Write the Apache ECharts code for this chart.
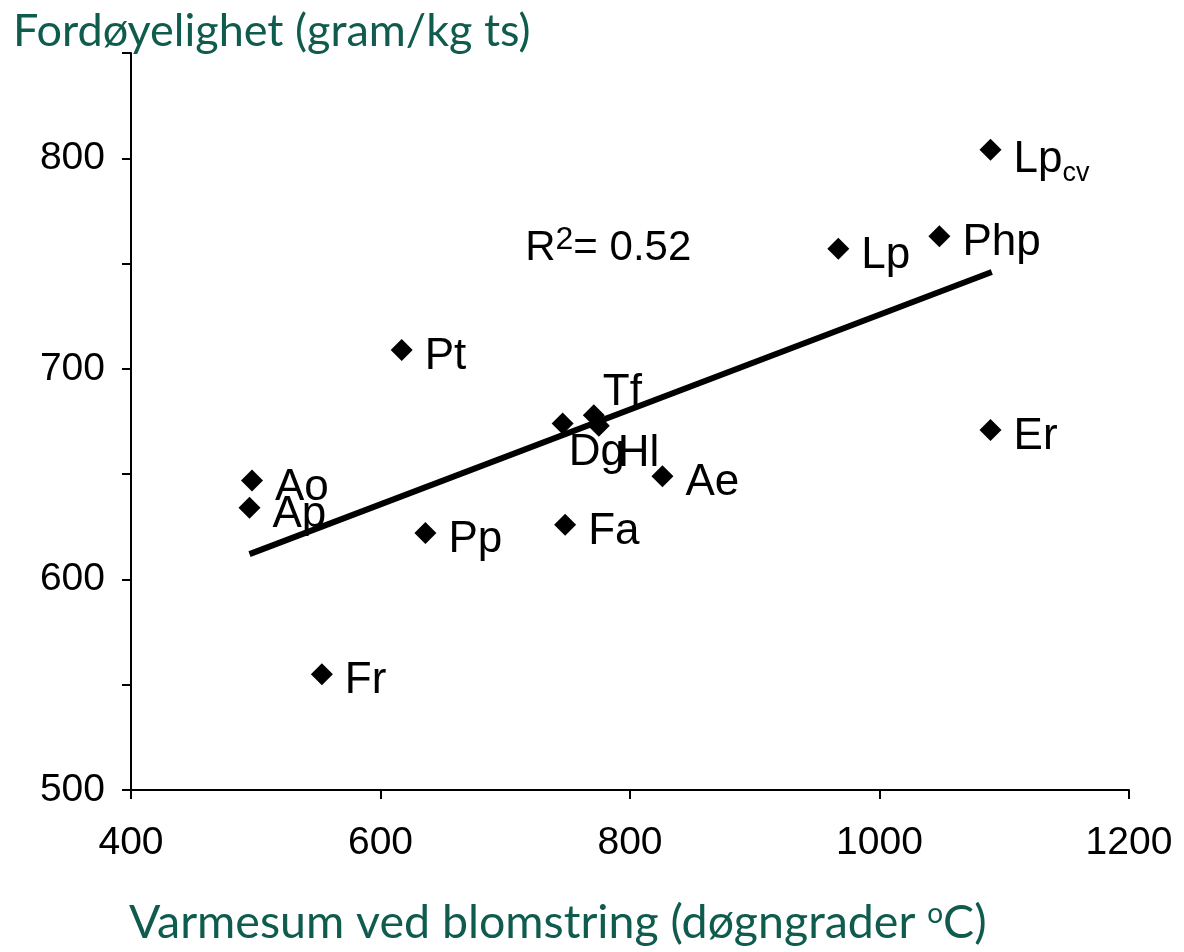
<!DOCTYPE html>
<html>
<head>
<meta charset="utf-8">
<script src="https://cdn.jsdelivr.net/npm/echarts@6/dist/echarts.min.js"></script>
<style>
html,body{margin:0;padding:0;background:#fff;}
#c{width:1184px;height:952px;}
</style>
</head>
<body>
<div id="c"></div>
<script>
// ---- data ----
const names = ['Lp_cv','Lp','Php','Pt','Tf','Dg','Hl','Ae','Er','Fa','Pp','Ao','Ap','Fr'];
const xVals = [1089, 967, 1048, 617, 771, 746, 775, 826, 1089, 748, 636, 497, 495, 553];
const yVals = [804, 757, 763, 709, 678, 674, 673, 649, 671, 626, 622, 647, 634, 555];
const trendX = [495, 1090];
const trendY = [612, 746];
const r2Text = '0.52';
const r2Pos = [716, 757];
const xTicks = [400, 600, 800, 1000, 1200];
const yTicks = [500, 600, 700, 800];

const labelFont = 'Liberation Sans, Arial, sans-serif';
const titleColor = '#0f5c4e';

// label placement adjustments (style only)
const labelOffsets = {
  Lp_cv: [0, 10], Tf: [-14, -22], Dg: [-17, 29], Hl: [-4, 28]
};

const scatterData = names.map((n, i) => {
  const d = { name: n, value: [xVals[i], yVals[i]] };
  const off = labelOffsets[n] || [0, 7];
  d.label = { offset: off };
  return d;
});

const chart = echarts.init(document.getElementById('c'));
chart.setOption({
  animation: false,
  grid: { left: 131, right: 55, top: 53, bottom: 162 },
  title: [{
    text: 'Fordøyelighet (gram/kg ts)',
    left: 8, top: 4,
    textStyle: { fontFamily: 'Lato', fontWeight: 'normal', fontSize: 45, color: titleColor }
  }, {
    text: '{t|Varmesum ved blomstring (døgngrader }{s|o}{t|C)}',
    left: 124, top: 894,
    textStyle: {
      fontWeight: 'normal',
      rich: {
        t: { fontFamily: 'Lato', fontWeight: 'normal', fontSize: 46.5, color: titleColor },
        s: { fontFamily: 'Lato', fontWeight: 'normal', fontSize: 28, color: titleColor, padding: [0, 0, 18, 0] }
      }
    }
  }],
  xAxis: {
    type: 'value', min: 400, max: 1200, interval: 200,
    axisLine: { lineStyle: { color: '#000', width: 2 } },
    axisTick: { show: true, length: 9, lineStyle: { color: '#000', width: 2 } },
    axisLabel: {
      margin: 34, color: '#000', fontFamily: labelFont, fontSize: 39,
      formatter: v => xTicks.includes(v) ? String(v) : ''
    },
    splitLine: { show: false }
  },
  yAxis: {
    type: 'value', min: 500, max: 850, interval: 50,
    axisLine: { show: true, lineStyle: { color: '#000', width: 2 } },
    axisTick: { show: true, length: 9, lineStyle: { color: '#000', width: 2 } },
    axisLabel: {
      margin: 26, color: '#000', fontFamily: labelFont, fontSize: 39,
      formatter: v => yTicks.includes(v) ? String(v) : ''
    },
    splitLine: { show: false }
  },
  series: [{
    type: 'line',
    data: trendX.map((x, i) => [x, trendY[i]]),
    symbol: 'none',
    lineStyle: { color: '#000', width: 6 },
    z: 3
  }, {
    type: 'scatter',
    data: scatterData,
    symbol: 'diamond',
    symbolSize: 22,
    itemStyle: { color: '#000', opacity: 1 },
    z: 4,
    label: {
      show: true, position: 'right', distance: 12,
      color: '#000', fontFamily: labelFont, fontSize: 44,
      formatter: p => p.name === 'Lp_cv' ? '{n|Lp}{s|cv}' : p.name,
      rich: {
        n: { fontFamily: labelFont, fontSize: 44, color: '#000' },
        s: { fontFamily: labelFont, fontSize: 27, color: '#000', padding: [28, 0, 0, 0] }
      }
    }
  }, {
    type: 'scatter',
    data: [r2Pos],
    symbolSize: 0,
    itemStyle: { color: '#000', opacity: 1 },
    z: 5,
    label: {
      show: true, position: 'right', distance: 0, color: '#000',
      formatter: '{n|R}{p|2}{n|= ' + r2Text + '}',
      rich: {
        n: { fontFamily: labelFont, fontSize: 42, color: '#000' },
        p: { fontFamily: labelFont, fontSize: 32, color: '#000', padding: [0, 0, 18, 0] }
      }
    }
  }]
});
</script>
</body>
</html>
